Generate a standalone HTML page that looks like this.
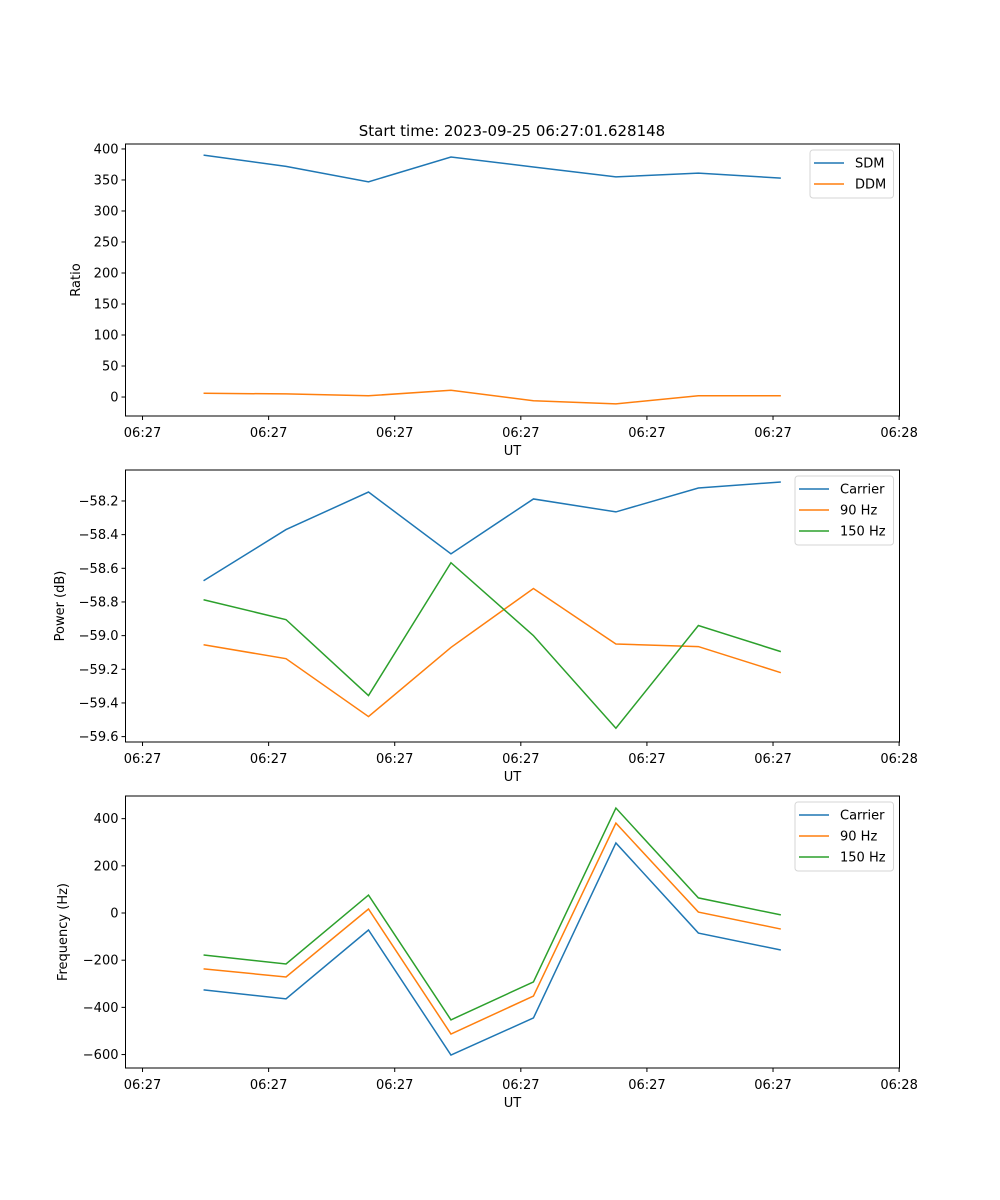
<!DOCTYPE html>
<html><head><meta charset="utf-8"><style>
body{margin:0;background:#fff}
svg{display:block;font-family:"DejaVu Sans","Liberation Sans",sans-serif}
</style></head><body>
<svg id="fig" width="1000" height="1200" viewBox="0 0 1000 1200">
<text x="512" y="136" text-anchor="middle" font-size="15">Start time: 2023-09-25 06:27:01.628148</text>
</svg>
<script>
const times=[4.84,11.38,17.92,24.46,31.0,37.54,44.08,50.62];
const xTickVals=[0,10,20,30,40,50,60];
const xTickLabels=["06:27","06:27","06:27","06:27","06:27","06:27","06:28"];
const sdm=[390,372,347,387,371,355,361,353];
const ddm=[6,5,2,11,-6,-11,2,2];
const pwrCarrier=[-58.674,-58.37,-58.147,-58.514,-58.188,-58.265,-58.123,-58.087];
const pwr90=[-59.054,-59.137,-59.481,-59.07,-58.72,-59.05,-59.065,-59.22];
const pwr150=[-58.787,-58.905,-59.356,-58.567,-59.0,-59.55,-58.94,-59.095];
const frqCarrier=[-326,-364,-72,-602,-445,297,-85,-157];
const frq90=[-237,-271,17,-513,-352,381,4,-68];
const frq150=[-178,-216,76,-453,-292,445,64,-8];
const ratioTicks=[0,50,100,150,200,250,300,350,400];
const powerTicks=[-59.6,-59.4,-59.2,-59.0,-58.8,-58.6,-58.4,-58.2];
const powerTickLabels=["\u221259.6","\u221259.4","\u221259.2","\u221259.0","\u221258.8","\u221258.6","\u221258.4","\u221258.2"];
const freqTicks=[-600,-400,-200,0,200,400];
const freqTickLabels=["\u2212600","\u2212400","\u2212200","0","200","400"];

const NS="http://www.w3.org/2000/svg";
const svg=document.getElementById('fig');
const L=125.5,R=899.5;
const xs=t=>L+(t-(-1.35))/(60.03-(-1.35))*(R-L);
function mk(tag,attrs,parent){const e=document.createElementNS(NS,tag);for(const k in attrs)e.setAttribute(k,attrs[k]);(parent||svg).appendChild(e);return e;}
const C=['#1f77b4','#ff7f0e','#2ca02c'];

function panel(name,top,bot,ymin,ymax,yt,ytl,ylabel,series,names,legend){
  const g=mk('g',{});
  
  
  const ys=v=>bot-(v-ymin)/(ymax-ymin)*(bot-top);
  series.forEach((s,i)=>{
    const p=mk('polyline',{points:s.map((v,j)=>xs(times[j])+','+ys(v)).join(' '),fill:'none',stroke:C[i],'stroke-width':1.5},g);
    
    
  });
  const fr=mk('rect',{x:L,y:top,width:R-L,height:bot-top,fill:'none',stroke:'#000','stroke-width':1},g);
  
  
  xTickVals.forEach((v,i)=>{
    const x=xs(v);
    mk('line',{x1:x,x2:x,y1:bot,y2:bot+4,stroke:'#000'},g);
    const t=mk('text',{x:x,y:bot+21,'text-anchor':'middle','font-size':13},g);
    t.textContent=xTickLabels[i];
    
    
  });
  yt.forEach((v,i)=>{
    const y=ys(v);
    mk('line',{x1:L-4,x2:L,y1:y,y2:y,stroke:'#000'},g);
    const t=mk('text',{x:L-7,y:y+4.5,'text-anchor':'end','font-size':13},g);
    t.textContent=ytl[i];
    
    
  });
  const xl=mk('text',{x:(L+R)/2,y:bot+39,'text-anchor':'middle','font-size':13},g);
  xl.textContent='UT';
  
  
  const cy=(top+bot)/2;
  const yl=mk('text',{x:legend.yx,y:cy,'text-anchor':'middle','font-size':13,transform:'rotate(-90 '+legend.yx+' '+cy+')'},g);
  yl.textContent=ylabel;
  
  
  const lg=mk('g',{},g);
  
  
  mk('rect',{x:legend.x,y:top+6,width:R-6-legend.x,height:names.length*21+6,rx:3,fill:'#fff',stroke:'#ccc','stroke-opacity':0.8},lg);
  names.forEach((n,i)=>{
    const y=top+19+i*21;
    mk('line',{x1:legend.x+4,x2:legend.x+34,y1:y,y2:y,stroke:C[i],'stroke-width':1.5},lg);
    const t=mk('text',{x:legend.x+45,y:y+4.5,'font-size':13},lg);
    t.textContent=n;
    
    
  });
}
panel('ratio',144,416,-30.6,408,ratioTicks,ratioTicks.map(String),'Ratio',[sdm,ddm],['SDM','DDM'],{x:810,yx:80});
panel('power',470,742,-59.632,-58.016,powerTicks,powerTickLabels,'Power (dB)',[pwrCarrier,pwr90,pwr150],['Carrier','90 Hz','150 Hz'],{x:795,yx:64});
panel('frequency',796,1068,-657,496,freqTicks,freqTickLabels,'Frequency (Hz)',[frqCarrier,frq90,frq150],['Carrier','90 Hz','150 Hz'],{x:795,yx:67});
</script>
</body></html>
